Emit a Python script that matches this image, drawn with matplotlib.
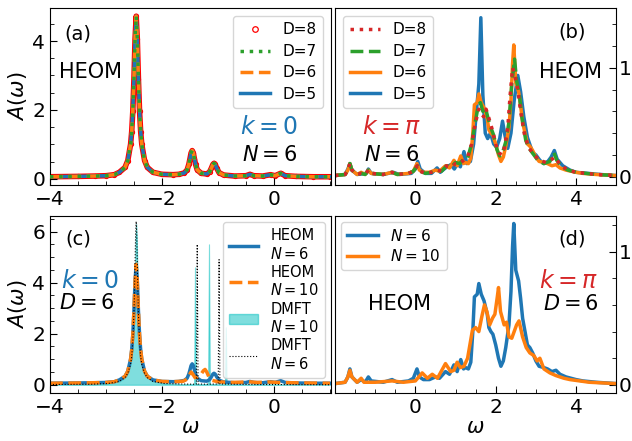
import matplotlib
matplotlib.use("Agg")
import matplotlib.pyplot as plt
from matplotlib.lines import Line2D
from matplotlib.patches import Patch

# k = 0, N = 6, D = 6 HEOM spectrum (D = 5, 7, 8 lie on top of it)
k0_w = [-4.0, -3.5, -3.2, -3.0, -2.85, -2.76, -2.66, -2.61, -2.56, -2.54, -2.52, -2.50, -2.48,
        -2.46, -2.44, -2.42, -2.40, -2.38, -2.36, -2.31, -2.26, -2.16, -2.0, -1.8, -1.7,
        -1.6, -1.55, -1.52, -1.50, -1.48, -1.46, -1.44, -1.42, -1.40, -1.37, -1.3, -1.2,
        -1.15, -1.12, -1.09, -1.07, -1.05, -1.02, -0.98, -0.9, -0.7, -0.5, -0.43, -0.36,
        -0.2, -0.06, 0.02, 0.12, 0.2, 0.4, 0.7, 1.0]
k0_n6 = [0.06, 0.07, 0.08, 0.09, 0.12, 0.19, 0.33, 0.53, 1.0, 1.37, 1.97, 2.9, 4.07,
         4.72, 4.07, 2.9, 1.97, 1.37, 1.0, 0.53, 0.33, 0.19, 0.13, 0.12, 0.13,
         0.17, 0.26, 0.42, 0.58, 0.75, 0.82, 0.75, 0.58, 0.42, 0.26, 0.16, 0.14,
         0.2, 0.3, 0.42, 0.45, 0.42, 0.3, 0.18, 0.11, 0.08, 0.09, 0.13, 0.09,
         0.08, 0.12, 0.09, 0.16, 0.09, 0.07, 0.06, 0.06]
k0_d5 = k0_n6
k0_d6 = k0_n6
k0_d7 = k0_n6
k0_d8 = k0_n6

# k = 0, N = 10, D = 6 HEOM
k0n10_w = [-4.0, -3.5, -3.2, -3.0, -2.85, -2.76, -2.66, -2.61, -2.56, -2.54, -2.52, -2.50, -2.48,
           -2.46, -2.44, -2.42, -2.40, -2.38, -2.36, -2.31, -2.26, -2.16, -2.0, -1.8, -1.62,
           -1.55, -1.51, -1.48, -1.45, -1.41, -1.36, -1.3, -1.26, -1.23, -1.2, -1.16, -1.1,
           -1.0, -0.8, -0.6, -0.45, -0.3, -0.1, 0.1, 0.3, 0.6, 1.0]
k0_n10 = [0.06, 0.07, 0.08, 0.09, 0.12, 0.19, 0.33, 0.53, 1.0, 1.37, 1.97, 2.9, 4.07,
          4.72, 4.07, 2.9, 1.97, 1.37, 1.0, 0.53, 0.33, 0.19, 0.13, 0.12, 0.14,
          0.22, 0.38, 0.5, 0.42, 0.28, 0.3, 0.42, 0.55, 0.6, 0.5, 0.3, 0.17,
          0.12, 0.09, 0.1, 0.12, 0.09, 0.11, 0.09, 0.08, 0.07, 0.06]

# DMFT, k = 0
dmft10_w = [-4.0, -3.26, -2.96, -2.76, -2.66, -2.61, -2.56, -2.54, -2.52, -2.50, -2.49, -2.48,
            -2.47, -2.46, -2.45, -2.44, -2.43, -2.42, -2.40, -2.38, -2.36, -2.31, -2.26, -2.16,
            -1.96, -1.66, -1.45, -1.425, -1.41, -1.395, -1.3, -1.175, -1.16, -1.145, -1.0,
            -0.875, -0.86, -0.845, -0.7, -0.4, 0.0, 1.0]
dmft10_A = [0.01, 0.02, 0.05, 0.13, 0.28, 0.45, 0.8, 1.1, 1.7, 2.8, 3.6, 4.7,
            5.8, 6.3, 5.8, 4.7, 3.6, 2.8, 1.7, 1.1, 0.8, 0.45, 0.28, 0.13,
            0.05, 0.02, 0.02, 0.03, 4.6, 0.03, 0.02, 0.03, 5.5, 0.03, 0.02,
            0.02, 2.25, 0.02, 0.01, 0.01, 0.01, 0.0]
dmft6_w = [-4.0, -3.26, -2.96, -2.76, -2.66, -2.61, -2.56, -2.54, -2.52, -2.50, -2.49, -2.48,
           -2.47, -2.46, -2.45, -2.44, -2.43, -2.42, -2.40, -2.38, -2.36, -2.31, -2.26, -2.16,
           -1.96, -1.66, -1.4, -1.385, -1.37, -1.355, -1.2, -0.995, -0.98, -0.965, -0.7,
           -0.4, 0.0, 1.0]
dmft6_A = [0.01, 0.02, 0.05, 0.13, 0.28, 0.45, 0.8, 1.1, 1.7, 2.8, 3.7, 4.8,
           5.9, 6.4, 5.9, 4.8, 3.7, 2.8, 1.7, 1.1, 0.8, 0.45, 0.28, 0.13,
           0.05, 0.03, 0.02, 0.03, 5.5, 0.03, 0.02, 0.03, 4.9, 0.03, 0.02,
           0.01, 0.01, 0.0]

# k = pi, N = 6, D = 6 HEOM (also N = 6 curve in panel d)
kpi_w6 = [-2.0, -1.75, -1.68, -1.63, -1.58, -1.45, -1.35, -1.25, -1.17, -1.1, -0.8, -0.58,
          -0.45, -0.17, -0.05, 0.04, 0.1, 0.2, 0.35, 0.5, 0.6, 0.75, 0.85, 0.96, 1.04, 1.13,
          1.2, 1.25, 1.32, 1.38, 1.43, 1.47, 1.54, 1.58, 1.64, 1.71, 1.79, 1.83, 1.88, 1.93,
          2.0, 2.07, 2.13, 2.19, 2.25, 2.33, 2.38, 2.42, 2.45, 2.5, 2.57, 2.62, 2.67, 2.79,
          2.85, 2.92, 3.0, 3.08, 3.2, 3.29, 3.4, 3.5, 3.6, 3.75, 4.0, 4.17, 4.5, 5.0]
kpi_d6 = [0.01, 0.02, 0.06, 0.12, 0.06, 0.02, 0.04, 0.02, 0.06, 0.03, 0.02, 0.04,
          0.02, 0.03, 0.05, 0.12, 0.06, 0.04, 0.04, 0.06, 0.05, 0.1, 0.08, 0.15, 0.1, 0.19,
          0.12, 0.13, 0.12, 0.17, 0.4, 0.66, 0.68, 0.76, 0.68, 0.63, 0.53, 0.43, 0.4, 0.38,
          0.3, 0.2, 0.14, 0.18, 0.28, 0.45, 0.7, 1.04, 1.21, 0.86, 0.78, 0.65, 0.5, 0.3,
          0.28, 0.24, 0.18, 0.14, 0.13, 0.12, 0.1, 0.11, 0.08, 0.06, 0.04, 0.03, 0.02, 0.01]
kpi_n6 = kpi_d6

kpi_w5 = [-2.0, -1.75, -1.68, -1.63, -1.58, -1.45, -1.22, -1.17, -1.1, -0.8, -0.55, -0.4,
          -0.1, 0.0, 0.06, 0.12, 0.25, 0.4, 0.54, 0.62, 0.75, 0.88, 0.97, 1.05, 1.12, 1.21,
          1.28, 1.37, 1.45, 1.52, 1.58, 1.63, 1.68, 1.74, 1.8, 1.87, 1.95, 2.02, 2.1, 2.17,
          2.23, 2.3, 2.38, 2.46, 2.55, 2.62, 2.7, 2.79, 2.92, 3.0, 3.1, 3.2, 3.3, 3.38, 3.46,
          3.53, 3.67, 3.85, 4.0, 4.3, 4.6, 5.0]
kpi_d5 = [0.01, 0.02, 0.07, 0.12, 0.06, 0.02, 0.03, 0.07, 0.03, 0.02, 0.04, 0.02,
          0.03, 0.07, 0.14, 0.07, 0.03, 0.03, 0.08, 0.04, 0.08, 0.11, 0.07, 0.12, 0.09, 0.23,
          0.12, 0.14, 0.3, 0.6, 0.85, 1.46, 0.75, 0.4, 0.35, 0.4, 0.3, 0.27, 0.35, 0.51,
          0.38, 0.26, 0.4, 0.7, 0.93, 0.78, 0.55, 0.36, 0.22, 0.2, 0.15, 0.12, 0.14, 0.18, 0.24,
          0.16, 0.1, 0.06, 0.04, 0.03, 0.02, 0.01]

kpi_w7 = [-2.0, -1.75, -1.68, -1.63, -1.58, -1.45, -1.35, -1.25, -1.17, -1.1, -0.8, -0.58,
          -0.45, -0.17, -0.05, 0.05, 0.12, 0.25, 0.4, 0.55, 0.65, 0.78, 0.9, 1.0, 1.1, 1.2,
          1.3, 1.4, 1.5, 1.57, 1.62, 1.68, 1.74, 1.8, 1.87, 1.95, 2.03, 2.1, 2.17, 2.25,
          2.33, 2.4, 2.47, 2.52, 2.58, 2.65, 2.75, 2.85, 2.95, 3.05, 3.2, 3.35, 3.45, 3.52,
          3.65, 3.8, 4.0, 4.5, 5.0]
kpi_d7 = [0.01, 0.02, 0.06, 0.12, 0.06, 0.02, 0.03, 0.02, 0.06, 0.03, 0.02, 0.04,
          0.02, 0.03, 0.05, 0.1, 0.05, 0.03, 0.04, 0.06, 0.05, 0.1, 0.09, 0.13, 0.12, 0.16,
          0.17, 0.3, 0.52, 0.66, 0.68, 0.6, 0.64, 0.55, 0.46, 0.38, 0.25, 0.19, 0.22, 0.32,
          0.5, 0.85, 1.08, 0.88, 0.78, 0.55, 0.33, 0.25, 0.2, 0.15, 0.12, 0.14, 0.22, 0.15,
          0.09, 0.06, 0.04, 0.02, 0.01]

kpi_w8 = [-2.0, -1.75, -1.68, -1.63, -1.58, -1.45, -1.35, -1.25, -1.17, -1.1, -0.8, -0.58,
          -0.45, -0.17, -0.05, 0.05, 0.12, 0.25, 0.4, 0.55, 0.65, 0.78, 0.9, 1.0, 1.1, 1.2,
          1.3, 1.4, 1.5, 1.58, 1.64, 1.7, 1.76, 1.82, 1.9, 2.0, 2.08, 2.15, 2.22, 2.3, 2.36,
          2.42, 2.48, 2.55, 2.62, 2.72, 2.82, 2.95, 3.1, 3.25, 3.4, 3.48, 3.6, 3.8, 4.0, 4.5,
          5.0]
kpi_d8 = [0.01, 0.02, 0.06, 0.12, 0.06, 0.02, 0.03, 0.02, 0.06, 0.03, 0.02, 0.04,
          0.02, 0.03, 0.05, 0.1, 0.05, 0.03, 0.04, 0.06, 0.05, 0.1, 0.09, 0.12, 0.12, 0.15,
          0.18, 0.3, 0.5, 0.62, 0.58, 0.55, 0.62, 0.55, 0.45, 0.3, 0.22, 0.2, 0.27, 0.45, 0.75,
          1.0, 0.92, 0.8, 0.6, 0.38, 0.27, 0.2, 0.15, 0.13, 0.16, 0.18, 0.11, 0.06, 0.04, 0.02,
          0.01]

# k = pi, N = 10, D = 6
kpi_w10 = [-2.0, -1.75, -1.68, -1.63, -1.58, -1.45, -1.35, -1.28, -1.0, -0.58, -0.3, 0.0,
           0.17, 0.3, 0.42, 0.55, 0.75, 0.88, 0.96, 1.04, 1.12, 1.21, 1.3, 1.42, 1.5, 1.58,
           1.66, 1.72, 1.78, 1.85, 1.92, 1.98, 2.04, 2.07, 2.12, 2.21, 2.27, 2.33, 2.4, 2.46,
           2.52, 2.58, 2.67, 2.76, 2.85, 2.95, 3.03, 3.1, 3.2, 3.35, 3.5, 3.7, 3.85, 4.33, 5.0]
kpi_n10 = [0.01, 0.02, 0.06, 0.11, 0.06, 0.02, 0.05, 0.02, 0.02, 0.03, 0.02, 0.03,
           0.09, 0.05, 0.08, 0.05, 0.16, 0.1, 0.11, 0.17, 0.13, 0.14, 0.2, 0.41, 0.43, 0.4,
           0.52, 0.6, 0.55, 0.45, 0.5, 0.53, 0.66, 0.73, 0.55, 0.45, 0.47, 0.36, 0.35, 0.4,
           0.45, 0.48, 0.36, 0.28, 0.24, 0.22, 0.18, 0.2, 0.12, 0.09, 0.07, 0.05, 0.04, 0.02, 0.01]

fig, axs = plt.subplots(2, 2, figsize=(6.32, 4.41), dpi=100)
plt.subplots_adjust(left=0.079, right=0.975, top=0.982, bottom=0.109, wspace=0.014, hspace=0.17)
ax1, ax2, ax3, ax4 = axs[0, 0], axs[0, 1], axs[1, 0], axs[1, 1]

lw = 2.5
legfs = 11

# (a)
ax1.plot(k0_w, k0_d8, color='r', lw=4.0, marker='o', ms=3, mfc='none', mew=0.8, zorder=1)
ax1.plot(k0_w, k0_d5, color='tab:blue', lw=lw, zorder=2)
ax1.plot(k0_w, k0_d6, color='tab:orange', lw=lw, ls='--', zorder=3)
ax1.plot(k0_w, k0_d7, color='tab:green', lw=lw, ls=':', zorder=4)
h = [Line2D([], [], ls='none', marker='o', ms=4, mfc='none', mec='r', mew=0.9),
     Line2D([], [], color='tab:green', lw=lw, ls=':'),
     Line2D([], [], color='tab:orange', lw=lw, ls='--'),
     Line2D([], [], color='tab:blue', lw=lw)]
ax1.legend(h, ['D=8', 'D=7', 'D=6', 'D=5'], loc='upper right', fontsize=legfs,
           labelspacing=0.42, borderaxespad=0.55)
ax1.set_xlim(-4, 1.02)
ax1.set_ylim(-0.19, 4.96)
ax1.set_ylabel(r'$A(\omega)$', fontsize=15, labelpad=2)
ax1.text(0.053, 0.855, '(a)', transform=ax1.transAxes, fontsize=14, va='center')
ax1.text(0.146, 0.64, 'HEOM', transform=ax1.transAxes, fontsize=15, ha='center', va='center')
ax1.text(0.78, 0.33, r'$k=0$', transform=ax1.transAxes, fontsize=17, ha='center', va='center',
         color='tab:blue')
ax1.text(0.78, 0.173, r'$N=6$', transform=ax1.transAxes, fontsize=15, ha='center', va='center')

# (b)
ax2.plot(kpi_w5, kpi_d5, color='tab:blue', lw=lw)
ax2.plot(kpi_w6, kpi_d6, color='tab:orange', lw=lw)
ax2.plot(kpi_w7, kpi_d7, color='tab:green', lw=lw, ls='--')
ax2.plot(kpi_w8, kpi_d8, color='tab:red', lw=lw, ls=':')
h = [Line2D([], [], color='tab:red', lw=lw, ls=':'),
     Line2D([], [], color='tab:green', lw=lw, ls='--'),
     Line2D([], [], color='tab:orange', lw=lw),
     Line2D([], [], color='tab:blue', lw=lw)]
ax2.legend(h, ['D=8', 'D=7', 'D=6', 'D=5'], loc='upper left', fontsize=legfs,
           labelspacing=0.42, borderaxespad=0.55)
ax2.set_xlim(-2, 5)
ax2.set_ylim(-0.08, 1.55)
ax2.text(0.843, 0.866, '(b)', transform=ax2.transAxes, fontsize=14, ha='center', va='center')
ax2.text(0.836, 0.64, 'HEOM', transform=ax2.transAxes, fontsize=15, ha='center', va='center')
ax2.text(0.2, 0.33, r'$k=\pi$', transform=ax2.transAxes, fontsize=17, ha='center', va='center',
         color='tab:red')
ax2.text(0.2, 0.173, r'$N=6$', transform=ax2.transAxes, fontsize=15, ha='center', va='center')

# (c)
ax3.fill_between(dmft10_w, dmft10_A, color='c', alpha=0.5, lw=0.8)
ax3.plot(k0_w, k0_n6, color='tab:blue', lw=lw)
ax3.plot(k0n10_w, k0_n10, color='tab:orange', lw=lw, ls='--')
ax3.plot(dmft6_w, dmft6_A, color='k', lw=0.8, ls=':')
h = [Line2D([], [], color='tab:blue', lw=lw),
     Line2D([], [], color='tab:orange', lw=lw, ls='--'),
     Patch(facecolor='c', edgecolor='c', alpha=0.5),
     Line2D([], [], color='k', lw=0.8, ls=':')]
ax3.legend(h, ['HEOM\n$N=6$', 'HEOM\n$N=10$', 'DMFT\n$N=10$', 'DMFT\n$N=6$'],
           loc='upper right', fontsize=10.5, handlelength=2.0, labelspacing=0.22,
           borderaxespad=0.45)
ax3.set_xlim(-4, 1.02)
ax3.set_ylim(-0.32, 6.63)
ax3.set_ylabel(r'$A(\omega)$', fontsize=15, labelpad=2)
ax3.set_xlabel(r'$\omega$', fontsize=15, labelpad=0)
ax3.text(0.1, 0.87, '(c)', transform=ax3.transAxes, fontsize=14, ha='center', va='center')
ax3.text(0.142, 0.63, r'$k=0$', transform=ax3.transAxes, fontsize=17, ha='center', va='center',
         color='tab:blue')
ax3.text(0.13, 0.505, r'$D=6$', transform=ax3.transAxes, fontsize=15, ha='center', va='center')

# (d)
ax4.plot(kpi_w6, kpi_n6, color='tab:blue', lw=lw, label='$N=6$')
ax4.plot(kpi_w10, kpi_n10, color='tab:orange', lw=lw, label='$N=10$')
ax4.legend(loc='upper left', fontsize=11, labelspacing=0.3, borderaxespad=0.4)
ax4.set_xlim(-2, 5)
ax4.set_ylim(-0.06, 1.27)
ax4.set_xlabel(r'$\omega$', fontsize=15, labelpad=0)
ax4.text(0.843, 0.87, '(d)', transform=ax4.transAxes, fontsize=14, ha='center', va='center')
ax4.text(0.229, 0.5, 'HEOM', transform=ax4.transAxes, fontsize=15, ha='center', va='center')
ax4.text(0.832, 0.63, r'$k=\pi$', transform=ax4.transAxes, fontsize=17, ha='center', va='center',
         color='tab:red')
ax4.text(0.84, 0.5, r'$D=6$', transform=ax4.transAxes, fontsize=15, ha='center', va='center')

for ax in [ax1, ax2, ax3, ax4]:
    ax.minorticks_on()
    ax.tick_params(which='both', direction='in', labelsize=14.5)
    ax.tick_params(which='major', length=5)
    ax.tick_params(which='minor', length=3)

for ax in [ax2, ax4]:
    ax.yaxis.tick_right()
    ax.set_yticks([0, 1])
    ax.tick_params(axis='y', which='both', left=False, pad=2)

ax1.set_xticks([-4, -2, 0])
ax3.set_xticks([-4, -2, 0])
ax1.set_yticks([0, 2, 4])
ax3.set_yticks([0, 2, 4, 6])
ax2.set_xticks([0, 2, 4])
ax4.set_xticks([0, 2, 4])
ax2.set_ylim(-0.08, 1.55)
ax4.set_ylim(-0.06, 1.27)

plt.savefig('out.png', dpi=100)
